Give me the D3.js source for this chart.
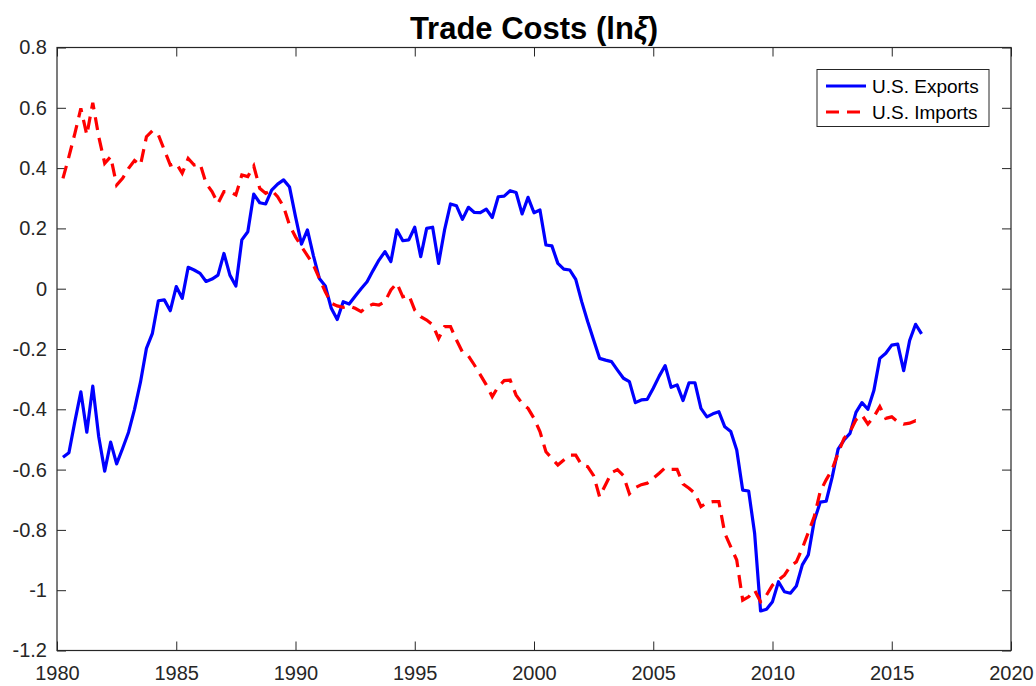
<!DOCTYPE html>
<html>
<head>
<meta charset="utf-8">
<script src="https://cdn.jsdelivr.net/npm/d3@7"></script>
<style>
  html, body { margin: 0; padding: 0; background: #fff; }
  svg { display: block; }
</style>
</head>
<body>
<div id="chart"></div>
<script>
// Trade costs, quarterly from 1980Q1 (plotted at 1980.25) to 2016Q1
const startYear = 1980.25;
const step = 0.25;

const exportsSeries = [
  -0.559, -0.544, -0.44, -0.342,
  -0.476, -0.323, -0.491, -0.605,
  -0.509, -0.581, -0.53, -0.476,
  -0.40, -0.31, -0.198, -0.148,
  -0.040, -0.037, -0.073, 0.007,
  -0.032, 0.071, 0.062, 0.051,
  0.024, 0.032, 0.045, 0.117,
  0.045, 0.009, 0.162, 0.189,
  0.314, 0.285, 0.281, 0.327,
  0.347, 0.361, 0.337, 0.239,
  0.148, 0.195, 0.11, 0.034,
  0.009, -0.065, -0.102, -0.043,
  -0.051, -0.025, 0.0, 0.023,
  0.06, 0.095, 0.123, 0.090,
  0.195, 0.159, 0.162, 0.204,
  0.106, 0.200, 0.204, 0.084,
  0.195, 0.281, 0.275, 0.230,
  0.270, 0.253, 0.252, 0.264,
  0.236, 0.305, 0.307, 0.325,
  0.319, 0.248, 0.303, 0.252,
  0.261, 0.145, 0.142, 0.084,
  0.065, 0.062, 0.031, -0.043,
  -0.109, -0.170, -0.231, -0.237,
  -0.242, -0.270, -0.297, -0.308,
  -0.378, -0.369, -0.367, -0.330,
  -0.290, -0.255, -0.327, -0.319,
  -0.371, -0.312, -0.312, -0.397,
  -0.425, -0.415, -0.408, -0.458,
  -0.474, -0.535, -0.668, -0.671,
  -0.811, -1.069, -1.063, -1.038,
  -0.972, -1.005, -1.010, -0.986,
  -0.916, -0.883, -0.770, -0.708,
  -0.705, -0.626, -0.532, -0.502,
  -0.480, -0.410, -0.378, -0.400,
  -0.338, -0.231, -0.214, -0.187,
  -0.184, -0.272, -0.172, -0.118,
  -0.150
];

const importsSeries = [
  0.366, 0.438, 0.515, 0.598,
  0.510, 0.617, 0.504, 0.416,
  0.438, 0.344, 0.366, 0.399,
  0.425, 0.410, 0.504, 0.524,
  0.510, 0.460, 0.410, 0.416,
  0.383, 0.432, 0.410, 0.414,
  0.350, 0.322, 0.283, 0.322,
  0.322, 0.311, 0.377, 0.372,
  0.407, 0.333, 0.316, 0.327,
  0.305, 0.272, 0.211, 0.172,
  0.14, 0.11, 0.079, 0.034,
  -0.010, -0.048, -0.057, -0.062,
  -0.057, -0.065, -0.076, -0.060,
  -0.051, -0.054, -0.043, -0.004,
  0.018, -0.027, -0.021, -0.071,
  -0.093, -0.104, -0.120, -0.165,
  -0.126, -0.126, -0.170, -0.210,
  -0.223, -0.253, -0.286, -0.319,
  -0.358, -0.325, -0.305, -0.303,
  -0.353, -0.380, -0.397, -0.430,
  -0.474, -0.541, -0.563, -0.585,
  -0.568, -0.552, -0.552, -0.585,
  -0.59, -0.62, -0.69, -0.65,
  -0.61, -0.60, -0.62, -0.68,
  -0.66, -0.65, -0.645, -0.629,
  -0.612, -0.594, -0.599, -0.599,
  -0.648, -0.662, -0.679, -0.723,
  -0.710, -0.706, -0.706, -0.811,
  -0.856, -0.900, -1.033, -1.022,
  -1.000, -1.038, -1.016, -0.983,
  -0.966, -0.950, -0.920, -0.906,
  -0.861, -0.809, -0.756, -0.673,
  -0.634, -0.599, -0.546, -0.496,
  -0.474, -0.435, -0.419, -0.449,
  -0.425, -0.391, -0.430, -0.425,
  -0.441, -0.449, -0.446, -0.438,
  -0.444
];

const xTicks = [1980, 1985, 1990, 1995, 2000, 2005, 2010, 2015, 2020];
const yTicks = [-1.2, -1, -0.8, -0.6, -0.4, -0.2, 0, 0.2, 0.4, 0.6, 0.8];
const seriesNames = ["U.S. Exports", "U.S. Imports"];

// layout
const W = 1036, H = 686;
const plotLeft = 57, plotRight = 1011, plotTop = 47.5, plotBottom = 650.5;
const axisColor = "#262626";
const font = "'Liberation Sans', Arial, Helvetica, sans-serif";

const svg = d3.select("#chart").append("svg")
  .attr("width", W)
  .attr("height", H);

const x = d3.scaleLinear().domain([1980, 2020]).range([plotLeft, plotRight]);
const y = d3.scaleLinear().domain([-1.2, 0.8]).range([plotBottom, plotTop]);

const toPoints = vals => vals.map((v, i) => ({ t: startYear + i * step, v: v }));

// axes (ticks point inward, MATLAB style)
const fmtY = d => d === 0 ? "0" : (Number.isInteger(d) ? d.toString() : d.toFixed(1));

const gx = svg.append("g")
  .attr("transform", `translate(0,${plotBottom})`)
  .call(d3.axisBottom(x).tickValues(xTicks).tickFormat(d3.format("d"))
    .tickSizeInner(-9).tickSizeOuter(0).tickPadding(15));

const gxTop = svg.append("g")
  .attr("transform", `translate(0,${plotTop})`)
  .call(d3.axisTop(x).tickValues(xTicks).tickFormat("")
    .tickSizeInner(-9).tickSizeOuter(0));

const gy = svg.append("g")
  .attr("transform", `translate(${plotLeft},0)`)
  .call(d3.axisLeft(y).tickValues(yTicks).tickFormat(fmtY)
    .tickSizeInner(-9).tickSizeOuter(0).tickPadding(10));

const gyRight = svg.append("g")
  .attr("transform", `translate(${plotRight},0)`)
  .call(d3.axisRight(y).tickValues(yTicks).tickFormat("")
    .tickSizeInner(-9).tickSizeOuter(0));

[gx, gxTop, gy, gyRight].forEach(g => {
  g.select(".domain").remove();
  g.selectAll(".tick line").attr("stroke", axisColor).attr("stroke-width", 1);
  g.selectAll(".tick text")
    .attr("fill", axisColor)
    .style("font-family", font)
    .style("font-size", "20px");
});

// frame
svg.append("rect")
  .attr("x", plotLeft)
  .attr("y", plotTop)
  .attr("width", plotRight - plotLeft)
  .attr("height", plotBottom - plotTop)
  .attr("fill", "none")
  .attr("stroke", axisColor)
  .attr("stroke-width", 1.2);

// lines
const line = d3.line()
  .x(d => x(d.t))
  .y(d => y(d.v));

svg.append("path")
  .datum(toPoints(exportsSeries))
  .attr("fill", "none")
  .attr("stroke", "#0000ff")
  .attr("stroke-width", 3.2)
  .attr("stroke-linejoin", "round")
  .attr("d", line);

svg.append("path")
  .datum(toPoints(importsSeries))
  .attr("fill", "none")
  .attr("stroke", "#ff0000")
  .attr("stroke-width", 3.2)
  .attr("stroke-dasharray", "13,8")
  .attr("d", line);

// title
const title = svg.append("text")
  .attr("x", (plotLeft + plotRight) / 2)
  .attr("y", 39)
  .attr("text-anchor", "middle")
  .style("font-family", font)
  .style("font-weight", "bold")
  .style("font-size", "31px")
  .attr("fill", "#000");
title.append("tspan").text("Trade Costs (ln");
title.append("tspan").style("font-style", "italic").text("ξ");
title.append("tspan").text(")");

// legend
const legend = svg.append("g");
legend.append("rect")
  .attr("x", 817)
  .attr("y", 69.5)
  .attr("width", 172)
  .attr("height", 57)
  .attr("fill", "#fff")
  .attr("stroke", axisColor)
  .attr("stroke-width", 1);

seriesNames.forEach((name, i) => {
  const ly = 86 + i * 26;
  legend.append("line")
    .attr("x1", 826).attr("x2", 866)
    .attr("y1", ly).attr("y2", ly)
    .attr("stroke", i === 0 ? "#0000ff" : "#ff0000")
    .attr("stroke-width", 3.2)
    .attr("stroke-dasharray", i === 0 ? null : "13,8");
  legend.append("text")
    .attr("x", 872)
    .attr("y", ly)
    .attr("dy", "0.35em")
    .style("font-family", font)
    .style("font-size", "19px")
    .attr("fill", "#000")
    .text(name);
});
</script>
</body>
</html>
